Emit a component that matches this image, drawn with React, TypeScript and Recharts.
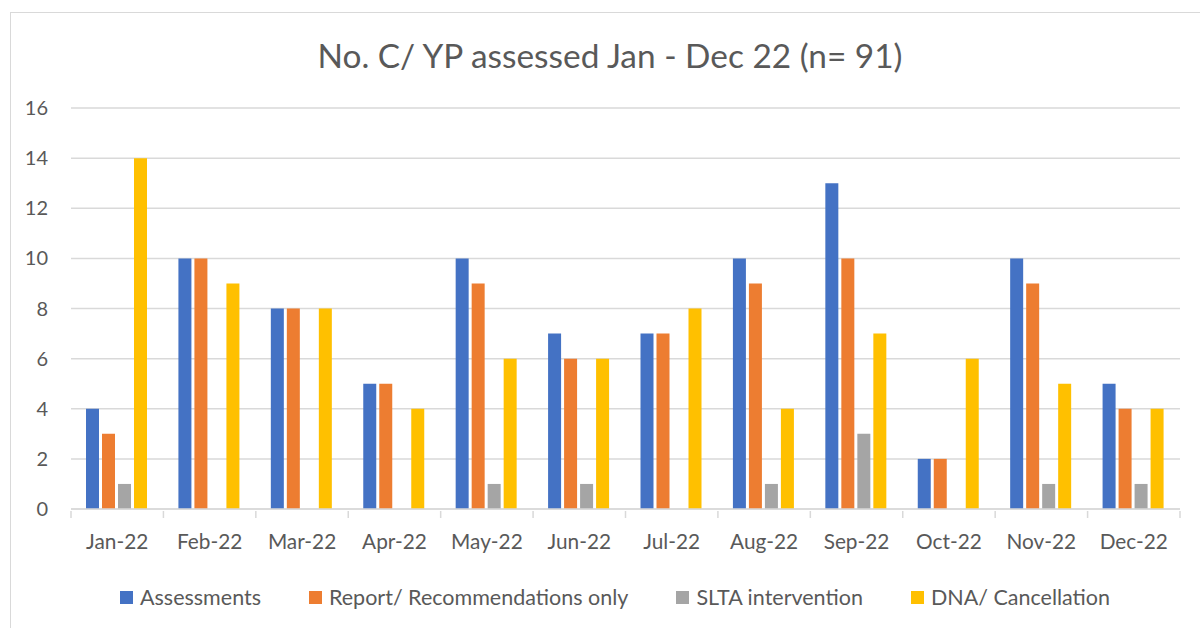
import React from "react";
import { BarChart, Bar, XAxis, YAxis, CartesianGrid, Legend } from "recharts";

const months = ["Jan-22", "Feb-22", "Mar-22", "Apr-22", "May-22", "Jun-22", "Jul-22", "Aug-22", "Sep-22", "Oct-22", "Nov-22", "Dec-22"];
const assessments = [4, 10, 8, 5, 10, 7, 7, 10, 13, 2, 10, 5];
const reportOnly = [3, 10, 8, 5, 9, 6, 7, 9, 10, 2, 9, 4];
const sltaIntervention = [1, 0, 0, 0, 1, 1, 0, 1, 3, 0, 1, 1];
const dnaCancellation = [14, 9, 8, 4, 6, 6, 8, 4, 7, 6, 5, 4];
const yTicks = [0, 2, 4, 6, 8, 10, 12, 14, 16];

const series = [
  { key: "assessments", name: "Assessments", color: "#4472C4" },
  { key: "report", name: "Report/ Recommendations only", color: "#ED7D31" },
  { key: "slta", name: "SLTA intervention", color: "#A5A5A5" },
  { key: "dna", name: "DNA/ Cancellation", color: "#FFC000" },
];

const data = months.map((m, i) => ({
  month: m,
  assessments: assessments[i],
  report: reportOnly[i],
  slta: sltaIntervention[i],
  dna: dnaCancellation[i],
}));

const FONT = "Lato, 'Noto Sans', sans-serif";
const TEXT = "#595959";
const GRID = "#d9d9d9";

// excel puts the tick marks between categories, not under them
function MonthTick(props: any) {
  const { x, y, payload, index } = props;
  const half = payload.offset || 46.2;
  const last = index === months.length - 1;
  return (
    <g>
      <line x1={x - half} x2={x - half} y1={y} y2={y + 7} stroke={GRID} strokeWidth={1.5} />
      {last && <line x1={x + half} x2={x + half} y1={y} y2={y + 7} stroke={GRID} strokeWidth={1.5} />}
      <text x={x} y={y + 38} textAnchor="middle" fill={TEXT} fontSize={20.8} fontFamily={FONT}>
        {payload.value}
      </text>
    </g>
  );
}

function LegendRow() {
  return (
    <div style={{ display: "flex", justifyContent: "center", gap: 48, paddingLeft: 30, paddingTop: 15, fontFamily: FONT, fontSize: 21.5, color: TEXT }}>
      {series.map((s) => (
        <div key={s.key} style={{ display: "flex", alignItems: "center" }}>
          <span style={{ width: 13, height: 13, background: s.color, marginRight: 7, display: "inline-block" }} />
          <span>{s.name}</span>
        </div>
      ))}
    </div>
  );
}

export default function App() {
  return (
    <div style={{ position: "fixed", left: 0, top: 0, width: 1200, height: 628, overflow: "hidden", background: "#fff" }}>
      <div style={{ position: "absolute", left: 10, top: 12, width: 1300, height: 700, border: `1.5px solid ${GRID}` }} />
      <div style={{ position: "absolute", left: 20, top: 35, width: 1180, textAlign: "center", fontFamily: FONT, fontSize: 33.4, color: TEXT, lineHeight: "normal" }}>
        No. C/ YP assessed Jan - Dec 22 (n= 91)
      </div>
      <div style={{ position: "absolute", left: 0, top: 0 }}>
        <BarChart width={1200} height={628} data={data} margin={{ top: 108, right: 20, left: 0, bottom: 0 }} barGap={3} barCategoryGap={15}>
          <CartesianGrid vertical={false} stroke={GRID} strokeWidth={1.5} />
          <XAxis
            dataKey="month"
            height={60}
            tickSize={0}
            tickLine={false}
            axisLine={{ stroke: GRID, strokeWidth: 1.5 }}
            tick={<MonthTick />}
            interval={0}
          />
          <YAxis
            width={71}
            domain={[0, 16]}
            ticks={yTicks}
            axisLine={false}
            tickLine={false}
            tickSize={0}
            tickMargin={23}
            tick={{ fill: TEXT, fontSize: 20, fontFamily: FONT }}
          />
          <Legend verticalAlign="bottom" wrapperStyle={{ height: 59, left: 0, width: 1200 }} content={<LegendRow />} />
          {series.map((s) => (
            <Bar key={s.key} dataKey={s.key} name={s.name} fill={s.color} isAnimationActive={false} />
          ))}
        </BarChart>
      </div>
    </div>
  );
}
